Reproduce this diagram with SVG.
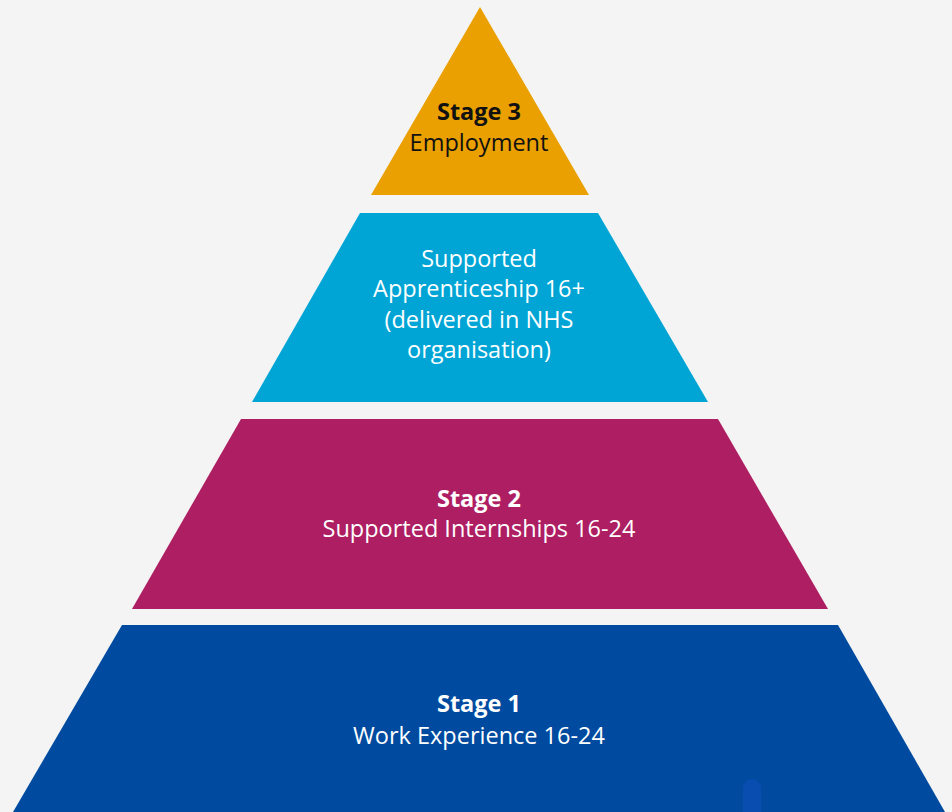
<svg xmlns="http://www.w3.org/2000/svg" width="952" height="812" viewBox="0 0 952 812">
<style>
.t{font-family:"Open Sans","Noto Sans","DejaVu Sans",sans-serif;font-size:23.5px;text-anchor:middle}
.b{font-weight:bold}
.w{fill:#ffffff}
.k{fill:#111111}
</style>
<rect x="0" y="0" width="952" height="812" fill="#F4F4F4"/>
<g id="stage3">
<polygon points="480,7 589,195 371,195" fill="#E9A000"/>
<text class="t b k" x="479" y="120">Stage 3</text>
<text class="t k" x="479" y="151">Employment</text>
</g>
<g id="apprenticeship">
<polygon points="360,213 598,213 708,402 252,402" fill="#00A5D5"/>
<text class="t w" x="479" y="267">Supported</text>
<text class="t w" x="479" y="297">Apprenticeship 16+</text>
<text class="t w" x="479" y="328">(delivered in NHS</text>
<text class="t w" x="479" y="358">organisation)</text>
</g>
<g id="stage2">
<polygon points="241,419 718,419 828,609 132,609" fill="#AE1E63"/>
<text class="t b w" x="479" y="507">Stage 2</text>
<text class="t w" x="479" y="537">Supported Internships 16-24</text>
</g>
<g id="stage1">
<polygon points="122,625 838,625 945,812 13,812" fill="#004B9F"/>
<text class="t b w" x="479" y="712">Stage 1</text>
<text class="t w" x="479" y="744">Work Experience 16-24</text>
<path d="M743,812 V788 A9,9 0 0 1 761,788 V812 Z" fill="#0A4DB0"/>
</g>
<g id="connectors"/>
</svg>
